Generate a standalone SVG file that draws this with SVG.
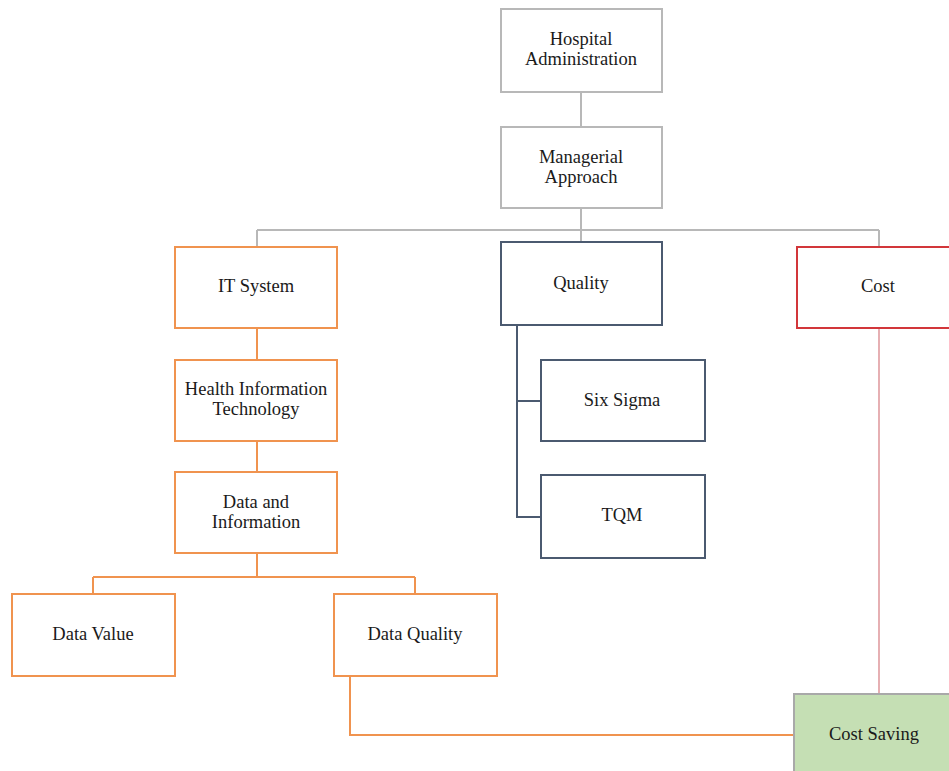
<svg xmlns="http://www.w3.org/2000/svg" width="949" height="771" viewBox="0 0 949 771">
<style>
rect{stroke-width:2}
.g{fill:#fff;stroke:#b8b8b8}
.o{fill:#fff;stroke:#f0934f}
.b{fill:#fff;stroke:#4b5a70}
.r{fill:#fff;stroke:#d2363a}
.s{fill:#c5dfb4;stroke:#a9a9a9}
text{font-family:"Liberation Serif",serif;font-size:18.5px;fill:#1a1a1a;text-anchor:middle}
.cg{stroke:#b8b8b8;stroke-width:2;fill:none}
.co{stroke:#f0934f;stroke-width:2;fill:none}
.cb{stroke:#4b5a70;stroke-width:2;fill:none}
.cr{stroke:#d9858a;stroke-width:1.3;fill:none}
</style>
<g id="connectors">
<path class="cg" d="M581 92V127M581 208V230M257 230H879M257 230V247M581 230V242M879 230V247"/>
<path class="co" d="M257 328V360M257 441V472M257 553V577M93 577H415M93 577V594M415 577V594M350 676V735H794"/>
<path class="cb" d="M517 325V517H541M517 401H541"/>
<path class="cr" d="M879 328V694"/>
</g>
<g id="hospital-administration"><rect class="g" x="501" y="9" width="161" height="83"/><text x="581" y="45">Hospital</text><text x="581" y="65">Administration</text></g>
<g id="managerial-approach"><rect class="g" x="501" y="127" width="161" height="81"/><text x="581" y="163">Managerial</text><text x="581" y="183">Approach</text></g>
<g id="it-system"><rect class="o" x="175" y="247" width="162" height="81"/><text x="256" y="292">IT System</text></g>
<g id="health-it"><rect class="o" x="175" y="360" width="162" height="81"/><text x="256" y="395">Health Information</text><text x="256" y="415">Technology</text></g>
<g id="data-information"><rect class="o" x="175" y="472" width="162" height="81"/><text x="256" y="508">Data and</text><text x="256" y="528">Information</text></g>
<g id="data-value"><rect class="o" x="12" y="594" width="163" height="82"/><text x="93" y="640">Data Value</text></g>
<g id="data-quality"><rect class="o" x="334" y="594" width="163" height="82"/><text x="415" y="640">Data Quality</text></g>
<g id="quality"><rect class="b" x="501" y="242" width="161" height="83"/><text x="581" y="289">Quality</text></g>
<g id="six-sigma"><rect class="b" x="541" y="360" width="164" height="81"/><text x="622" y="406">Six Sigma</text></g>
<g id="tqm"><rect class="b" x="541" y="475" width="164" height="83"/><text x="622" y="521">TQM</text></g>
<g id="cost"><rect class="r" x="797" y="247" width="162" height="81"/><text x="878" y="292">Cost</text></g>
<g id="cost-saving"><rect class="s" x="794" y="694" width="165" height="87"/><text x="874" y="740">Cost Saving</text></g>
</svg>
